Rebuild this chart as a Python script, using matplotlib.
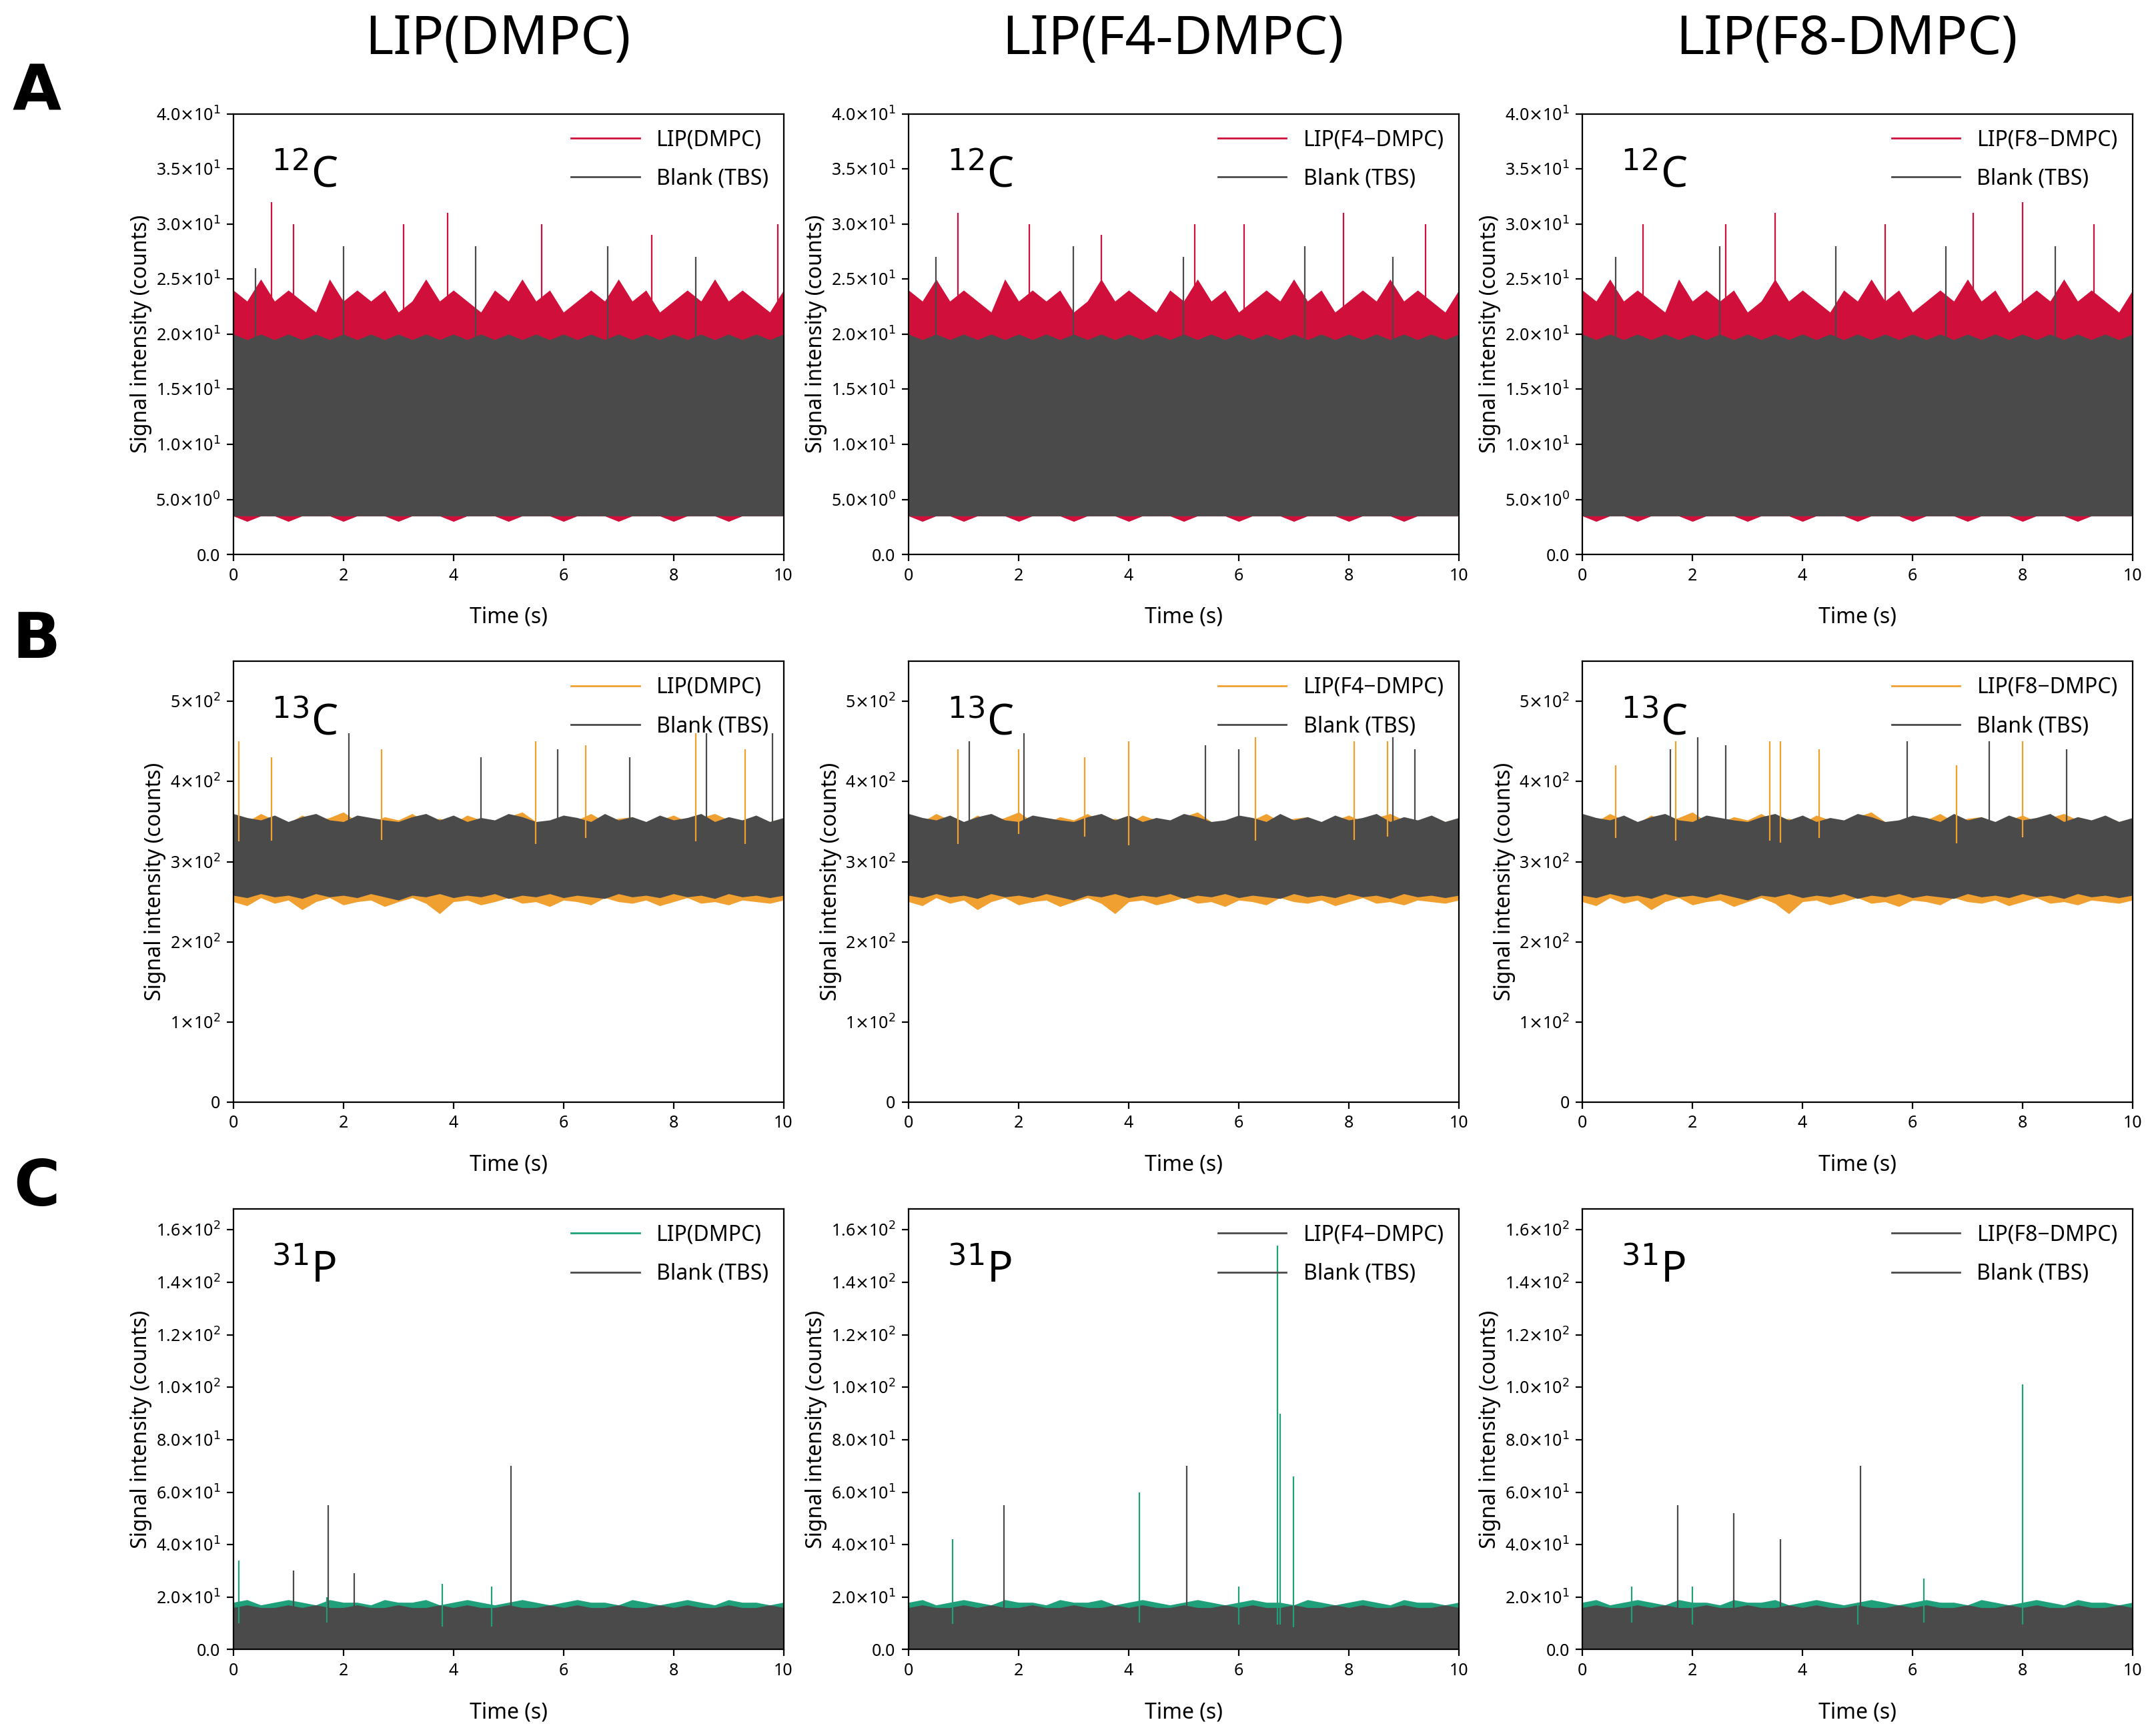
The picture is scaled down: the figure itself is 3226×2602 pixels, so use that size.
import numpy as np
import matplotlib
matplotlib.use("Agg")
import matplotlib.pyplot as plt
from matplotlib.ticker import FixedLocator, FixedFormatter

plt.rcParams["font.family"] = "Noto Sans"

col_titles = ["LIP(DMPC)", "LIP(F4\u2212DMPC)", "LIP(F8\u2212DMPC)"]
col_head = ["LIP(DMPC)", "LIP(F4-DMPC)", "LIP(F8-DMPC)"]
row_letters = ["A", "B", "C"]
isotopes = ["12", "13", "31"]
elements = ["C", "C", "P"]
sample_colors = ["#d0103a", "#f0a030", "#1fa07a"]
blank_color = "#4a4a4a"

env_t = np.linspace(0, 10, 41)
sample_hi = {
    "12": [24,23,25,23,24,23,22,25,23,24,23,24,22,23,25,23,24,23,22,24,23,25,23,24,22,23,24,23,25,23,24,22,23,24,23,25,23,24,23,22,24],
    "13": [355,350,360,352,348,358,350,355,362,350,348,356,352,360,350,354,348,358,352,350,356,362,350,348,355,352,360,350,354,356,348,352,358,350,355,360,352,348,356,350,354],
    "31": [18,19,17,18,19,18,17,19,18,18,17,19,18,18,19,17,18,19,18,17,18,19,18,17,18,19,18,18,17,19,18,17,18,19,18,17,19,18,18,17,18],
}
sample_lo = {
    "12": [3.5,3,3.5,3.5,3,3.5,3.5,3.5,3,3.5,3.5,3.5,3,3.5,3.5,3.5,3,3.5,3.5,3.5,3,3.5,3.5,3.5,3,3.5,3.5,3.5,3,3.5,3.5,3.5,3,3.5,3.5,3.5,3,3.5,3.5,3.5,3.5],
    "13": [250,245,255,248,252,240,250,255,246,250,252,244,250,255,248,235,250,252,246,250,255,248,250,244,252,250,246,255,250,248,252,245,250,255,248,250,246,252,250,248,252],
    "31": [0.5]*41,
}
blank_hi = {
    "12": [20,19.5,20,19.5,20,19.5,20,19.5,20,19.5,20,19.5,20,19.5,20,19.5,20,19.5,20,19.5,20,19.5,20,19.5,20,19.5,20,19.5,20,19.5,20,19.5,20,19.5,20,19.5,20,19.5,20,19.5,20],
    "13": [360,355,352,358,350,356,360,352,350,358,355,352,350,356,360,352,358,350,355,352,360,356,350,352,358,355,350,360,352,356,350,358,352,355,360,350,356,352,358,350,355],
    "31": [16,17,16,16,17,16,17,16,16,17,16,16,17,16,16,17,16,17,16,16,17,16,16,17,16,17,16,16,17,16,16,17,16,17,16,16,17,16,16,17,16],
}
blank_lo = {
    "12": [3.5]*41,
    "13": [258,255,260,256,258,254,260,256,258,255,260,256,252,258,256,260,255,258,256,260,254,258,256,260,255,258,256,254,260,256,258,255,260,256,258,254,260,256,258,255,258],
    "31": [0.5]*41,
}
ylims = {"12": 40, "13": 550, "31": 168}
yticks = {"12": [0,5,10,15,20,25,30,35,40], "13": [0,100,200,300,400,500],
          "31": [0,20,40,60,80,100,120,140,160]}
ylabels = {
    "12": ["0.0", r"5.0$\times$10$^0$", r"1.0$\times$10$^1$", r"1.5$\times$10$^1$", r"2.0$\times$10$^1$",
           r"2.5$\times$10$^1$", r"3.0$\times$10$^1$", r"3.5$\times$10$^1$", r"4.0$\times$10$^1$"],
    "13": ["0", r"1$\times$10$^2$", r"2$\times$10$^2$", r"3$\times$10$^2$", r"4$\times$10$^2$", r"5$\times$10$^2$"],
    "31": ["0.0", r"2.0$\times$10$^1$", r"4.0$\times$10$^1$", r"6.0$\times$10$^1$", r"8.0$\times$10$^1$",
           r"1.0$\times$10$^2$", r"1.2$\times$10$^2$", r"1.4$\times$10$^2$", r"1.6$\times$10$^2$"],
}
sample_spikes = [
    [[(0.7,32),(1.1,30),(3.1,30),(3.9,31),(5.6,30),(7.6,29),(9.9,30)],
     [(0.9,31),(2.2,30),(3.5,29),(5.2,30),(6.1,30),(7.9,31),(9.4,30)],
     [(1.1,30),(2.6,30),(3.5,31),(5.5,30),(7.1,31),(8.0,32),(9.3,30)]],
    [[(0.1,450),(0.7,430),(2.7,440),(5.5,450),(6.4,445),(8.4,460),(9.3,440)],
     [(0.9,440),(2.0,440),(3.2,430),(4.0,450),(6.3,455),(8.1,450),(8.7,450)],
     [(0.6,420),(1.7,450),(3.4,450),(3.6,450),(4.3,440),(6.8,420),(8.0,450)]],
    [[(0.1,34),(1.7,20),(3.8,25),(4.7,24)],
     [(0.8,42),(4.2,60),(6.7,154),(6.75,90),(7.0,66),(6.0,24)],
     [(0.9,24),(2.0,24),(6.2,27),(8.0,101),(5.0,18)]],
]
blank_spikes = [
    [[(0.4,26),(2.0,28),(4.4,28),(6.8,28),(8.4,27)],
     [(0.5,27),(3.0,28),(5.0,27),(7.2,28),(8.8,27)],
     [(0.6,27),(2.5,28),(4.6,28),(6.6,28),(8.6,28)]],
    [[(2.1,460),(4.5,430),(5.9,440),(7.2,430),(8.6,460),(9.8,460)],
     [(1.1,450),(2.1,460),(5.4,445),(6.0,440),(8.8,455),(9.2,440)],
     [(1.6,440),(2.1,455),(2.6,445),(5.9,450),(7.4,450),(8.8,440)]],
    [[(1.73,55),(5.05,70),(1.1,30),(2.2,29)],
     [(1.73,55),(5.05,70)],
     [(1.73,55),(2.75,52),(3.6,42),(5.05,70)]],
]

W, H = 3226, 2602
fig = plt.figure(figsize=(W/200, H/200), dpi=200)
lefts = [0.1084, 0.4222, 0.7353]
bottoms = [0.6806, 0.3652, 0.0498]
aw, ah = 0.2557, 0.2538

for r in range(3):
    iso = isotopes[r]
    fig.text(0.017, bottoms[r] + ah + 0.012, row_letters[r], fontsize=34, fontweight="bold",
             family="DejaVu Sans", ha="center", va="center")
    for c in range(3):
        ax = fig.add_axes([lefts[c], bottoms[r], aw, ah])
        scol = sample_colors[r]
        ax.fill_between(env_t, sample_lo[iso], sample_hi[iso], color=scol, lw=0)
        ax.fill_between(env_t, blank_lo[iso], blank_hi[iso], color=blank_color, lw=0)
        st, sv = zip(*sample_spikes[r][c])
        ax.vlines(st, np.interp(st, env_t, sample_hi[iso]) - 2 * (ylims[iso] / 40), sv, color=scol, lw=0.8)
        bt, bv = zip(*blank_spikes[r][c])
        ax.vlines(bt, np.interp(bt, env_t, blank_hi[iso]) - 2 * (ylims[iso] / 40), bv, color=blank_color, lw=0.8)
        ax.set_xlim(0, 10)
        ax.set_ylim(0, ylims[iso])
        ax.set_xticks([0, 2, 4, 6, 8, 10])
        ax.yaxis.set_major_locator(FixedLocator(yticks[iso]))
        ax.yaxis.set_major_formatter(FixedFormatter(ylabels[iso]))
        ax.tick_params(labelsize=9)
        ax.set_xlabel("Time (s)", fontsize=11.5, labelpad=12)
        ax.set_ylabel("Signal intensity (counts)", fontsize=11.5, labelpad=2)
        ax.text(0.07, 0.86, r"$^{%s}$%s" % (iso, elements[r]), transform=ax.transAxes,
                fontsize=23, va="center")
        leg_col = scol if (r < 2 or c == 0) else blank_color
        ax.plot([], [], color=leg_col, lw=1, label=col_titles[c])
        ax.plot([], [], color=blank_color, lw=1, label="Blank (TBS)")
        ax.legend(loc="upper right", frameon=False, fontsize=11.5, handlelength=3.2,
                  borderaxespad=0.3, labelspacing=0.8)
        if r == 0:
            fig.text(lefts[c] + aw/2 - 0.005, 0.977, col_head[c], fontsize=29, ha="center", va="center")

fig.savefig("out.png", dpi=200)
